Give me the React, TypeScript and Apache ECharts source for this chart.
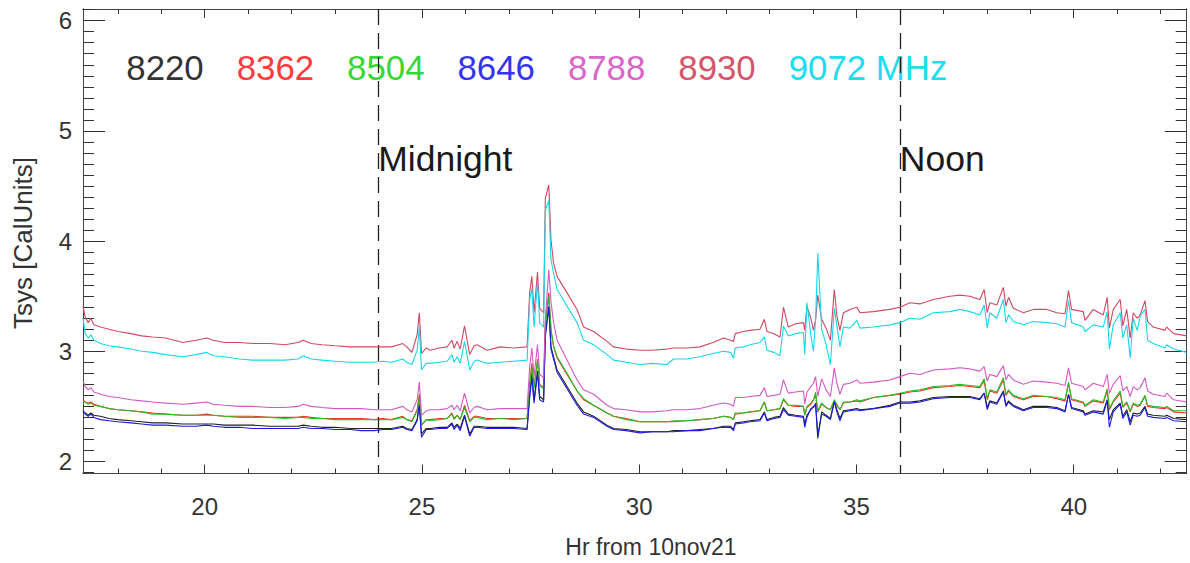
import React, { useEffect, useRef } from "react";
import * as echarts from "echarts";

// ---- data (hours from 10nov21, Tsys in CalUnits) ----
const HOURS = [
  17.2, 17.25, 17.32, 17.38, 17.45, 17.6, 17.8, 18.0, 18.3, 18.55, 18.8, 19.1, 19.5, 19.8, 20.05, 20.2, 20.45, 20.8, 21.1, 21.5, 21.85, 22.15, 22.27, 22.45, 22.7, 23.0, 23.35, 23.6, 23.9,
  24.1, 24.3, 24.56, 24.65, 24.77, 24.89, 24.94, 24.99, 25.1, 25.19, 25.4, 25.58, 25.69, 25.74, 25.81, 25.88, 25.98, 26.1, 26.2, 26.27, 26.5, 26.8, 27.11, 27.42, 27.48, 27.53, 27.58, 27.66, 27.71, 27.8, 27.84, 27.92, 27.97, 28.03, 28.11, 28.34, 28.57, 28.72, 28.95, 29.26, 29.41, 29.7, 30.02,
  30.3, 30.64, 30.79, 31.1, 31.4, 31.7, 31.94, 32.1, 32.17, 32.21, 32.4, 32.55, 32.78, 32.88, 32.94, 33.1, 33.24, 33.32, 33.43, 33.6, 33.78, 33.81, 33.86, 33.95, 34.01, 34.06, 34.11, 34.2, 34.3, 34.4, 34.49, 34.55, 34.62, 34.7, 34.85, 35.01, 35.08, 35.39, 35.77, 36.0,
  36.23, 36.46, 36.77, 37.15, 37.38, 37.61, 37.84, 37.94, 38.01, 38.07, 38.23, 38.38, 38.44, 38.5, 38.61, 38.84, 39.07, 39.38, 39.61, 39.8, 39.88, 39.95, 40.22, 40.26, 40.45, 40.68, 40.77, 40.82, 40.91, 41.07, 41.13, 41.22, 41.3, 41.37, 41.46, 41.53, 41.64, 41.7, 41.83, 42.1, 42.14, 42.3, 42.6,
];

const T8220 = [
  2.45, 2.44, 2.42, 2.44, 2.42, 2.41, 2.39, 2.38, 2.37, 2.36, 2.35, 2.35, 2.34, 2.34, 2.34, 2.34, 2.33, 2.33, 2.33, 2.32, 2.32, 2.32, 2.33, 2.32, 2.31, 2.31, 2.30, 2.30, 2.30,
  2.30, 2.30, 2.32, 2.30, 2.29, 2.38, 2.53, 2.25, 2.30, 2.30, 2.31, 2.31, 2.35, 2.31, 2.34, 2.30, 2.42, 2.25, 2.32, 2.32, 2.31, 2.31, 2.31, 2.30, 2.62, 2.80, 2.56, 2.82, 2.59, 2.56, 3.16, 3.41, 3.04, 2.95, 2.83, 2.68, 2.53, 2.45, 2.41, 2.33, 2.30, 2.29, 2.27,
  2.27, 2.27, 2.28, 2.28, 2.29, 2.30, 2.32, 2.32, 2.29, 2.35, 2.36, 2.37, 2.38, 2.45, 2.38, 2.40, 2.41, 2.49, 2.43, 2.42, 2.41, 2.33, 2.42, 2.47, 2.50, 2.51, 2.21, 2.45, 2.42, 2.39, 2.55, 2.47, 2.39, 2.46, 2.47, 2.48, 2.47, 2.48, 2.51, 2.54,
  2.54, 2.55, 2.58, 2.59, 2.59, 2.59, 2.57, 2.62, 2.49, 2.55, 2.53, 2.64, 2.51, 2.55, 2.51, 2.47, 2.50, 2.50, 2.49, 2.46, 2.61, 2.49, 2.46, 2.43, 2.46, 2.45, 2.56, 2.38, 2.47, 2.53, 2.41, 2.47, 2.36, 2.44, 2.43, 2.44, 2.50, 2.43, 2.42, 2.41, 2.42, 2.39, 2.38,
];

const T8362 = [
  2.56, 2.54, 2.53, 2.54, 2.52, 2.50, 2.48, 2.47, 2.46, 2.45, 2.44, 2.43, 2.42, 2.42, 2.43, 2.42, 2.41, 2.41, 2.41, 2.40, 2.40, 2.40, 2.41, 2.40, 2.39, 2.39, 2.39, 2.39, 2.38,
  2.39, 2.38, 2.41, 2.38, 2.37, 2.47, 2.61, 2.33, 2.38, 2.38, 2.39, 2.39, 2.44, 2.39, 2.42, 2.38, 2.51, 2.37, 2.41, 2.41, 2.39, 2.39, 2.39, 2.39, 2.71, 2.89, 2.68, 2.91, 2.70, 2.67, 3.26, 3.53, 3.19, 3.04, 2.94, 2.79, 2.64, 2.56, 2.51, 2.44, 2.41, 2.39, 2.36,
  2.36, 2.36, 2.36, 2.37, 2.38, 2.39, 2.41, 2.40, 2.38, 2.43, 2.44, 2.45, 2.46, 2.54, 2.46, 2.47, 2.48, 2.56, 2.51, 2.50, 2.50, 2.42, 2.49, 2.52, 2.56, 2.60, 2.45, 2.52, 2.49, 2.47, 2.55, 2.51, 2.47, 2.53, 2.54, 2.55, 2.54, 2.58, 2.60, 2.61,
  2.63, 2.64, 2.67, 2.68, 2.69, 2.68, 2.67, 2.73, 2.56, 2.64, 2.62, 2.74, 2.60, 2.64, 2.59, 2.56, 2.59, 2.59, 2.57, 2.55, 2.71, 2.56, 2.53, 2.50, 2.55, 2.53, 2.64, 2.47, 2.54, 2.62, 2.49, 2.53, 2.45, 2.52, 2.50, 2.51, 2.59, 2.50, 2.49, 2.48, 2.49, 2.45, 2.44,
];

const T8504 = [
  2.55, 2.54, 2.52, 2.53, 2.51, 2.50, 2.48, 2.47, 2.46, 2.45, 2.43, 2.43, 2.42, 2.42, 2.42, 2.42, 2.41, 2.40, 2.40, 2.40, 2.39, 2.40, 2.40, 2.39, 2.39, 2.38, 2.38, 2.38, 2.38,
  2.38, 2.38, 2.40, 2.38, 2.36, 2.46, 2.58, 2.33, 2.38, 2.37, 2.38, 2.39, 2.43, 2.38, 2.42, 2.38, 2.49, 2.36, 2.40, 2.40, 2.38, 2.39, 2.38, 2.39, 2.69, 2.86, 2.66, 2.93, 2.69, 2.66, 3.22, 3.50, 3.20, 3.05, 2.95, 2.80, 2.64, 2.57, 2.51, 2.44, 2.41, 2.38, 2.36,
  2.36, 2.36, 2.37, 2.37, 2.38, 2.39, 2.41, 2.40, 2.38, 2.44, 2.44, 2.45, 2.46, 2.54, 2.46, 2.47, 2.48, 2.57, 2.51, 2.51, 2.50, 2.42, 2.50, 2.53, 2.56, 2.63, 2.46, 2.53, 2.49, 2.47, 2.56, 2.52, 2.47, 2.54, 2.54, 2.56, 2.55, 2.58, 2.60, 2.62,
  2.64, 2.65, 2.68, 2.69, 2.70, 2.69, 2.68, 2.75, 2.57, 2.65, 2.63, 2.76, 2.61, 2.65, 2.60, 2.57, 2.60, 2.59, 2.58, 2.56, 2.72, 2.57, 2.54, 2.51, 2.56, 2.54, 2.66, 2.48, 2.55, 2.64, 2.50, 2.54, 2.46, 2.53, 2.51, 2.52, 2.60, 2.51, 2.50, 2.49, 2.50, 2.46, 2.46,
];

const T8646 = [
  2.47, 2.43, 2.41, 2.43, 2.40, 2.38, 2.37, 2.36, 2.35, 2.34, 2.33, 2.33, 2.32, 2.32, 2.33, 2.32, 2.31, 2.31, 2.30, 2.30, 2.30, 2.30, 2.31, 2.30, 2.30, 2.29, 2.29, 2.28, 2.28,
  2.29, 2.29, 2.31, 2.29, 2.28, 2.37, 2.51, 2.22, 2.29, 2.29, 2.30, 2.30, 2.34, 2.29, 2.33, 2.28, 2.41, 2.23, 2.31, 2.31, 2.30, 2.30, 2.30, 2.29, 2.58, 2.76, 2.53, 2.80, 2.56, 2.54, 3.13, 3.40, 3.02, 2.93, 2.81, 2.66, 2.51, 2.43, 2.40, 2.32, 2.29, 2.28, 2.26,
  2.27, 2.27, 2.27, 2.28, 2.28, 2.30, 2.31, 2.31, 2.28, 2.34, 2.35, 2.36, 2.37, 2.44, 2.37, 2.39, 2.40, 2.47, 2.42, 2.41, 2.40, 2.31, 2.40, 2.48, 2.49, 2.53, 2.24, 2.43, 2.41, 2.38, 2.54, 2.45, 2.37, 2.45, 2.46, 2.47, 2.46, 2.48, 2.50, 2.53,
  2.53, 2.54, 2.57, 2.58, 2.58, 2.58, 2.56, 2.62, 2.47, 2.54, 2.52, 2.63, 2.50, 2.54, 2.50, 2.46, 2.49, 2.49, 2.48, 2.45, 2.61, 2.48, 2.45, 2.42, 2.45, 2.43, 2.55, 2.31, 2.45, 2.52, 2.39, 2.45, 2.33, 2.42, 2.41, 2.42, 2.49, 2.41, 2.40, 2.39, 2.40, 2.37, 2.36,
];

const T8788 = [
  2.73, 2.68, 2.65, 2.67, 2.63, 2.61, 2.59, 2.58, 2.56, 2.55, 2.54, 2.53, 2.52, 2.53, 2.54, 2.52, 2.51, 2.50, 2.50, 2.49, 2.49, 2.50, 2.52, 2.50, 2.49, 2.48, 2.48, 2.48, 2.47,
  2.47, 2.47, 2.50, 2.47, 2.45, 2.56, 2.72, 2.42, 2.46, 2.47, 2.47, 2.48, 2.51, 2.47, 2.51, 2.46, 2.62, 2.44, 2.49, 2.50, 2.47, 2.48, 2.48, 2.48, 2.86, 3.03, 2.77, 3.06, 2.79, 2.76, 3.29, 3.74, 3.45, 3.26, 3.10, 2.92, 2.74, 2.65, 2.61, 2.51, 2.48, 2.47, 2.45,
  2.45, 2.46, 2.47, 2.47, 2.48, 2.51, 2.53, 2.52, 2.50, 2.58, 2.58, 2.59, 2.60, 2.67, 2.59, 2.60, 2.61, 2.74, 2.62, 2.63, 2.64, 2.52, 2.63, 2.68, 2.71, 2.77, 2.59, 2.75, 2.65, 2.59, 2.85, 2.71, 2.61, 2.70, 2.71, 2.74, 2.71, 2.72, 2.74, 2.77,
  2.80, 2.79, 2.83, 2.84, 2.85, 2.84, 2.82, 2.86, 2.73, 2.79, 2.77, 2.87, 2.74, 2.79, 2.74, 2.70, 2.73, 2.72, 2.71, 2.69, 2.85, 2.71, 2.68, 2.65, 2.71, 2.68, 2.79, 2.62, 2.70, 2.78, 2.64, 2.68, 2.59, 2.68, 2.65, 2.67, 2.76, 2.64, 2.61, 2.59, 2.62, 2.56, 2.54,
];

const T8930 = [
  3.41, 3.31, 3.26, 3.30, 3.24, 3.22, 3.20, 3.18, 3.16, 3.14, 3.13, 3.12, 3.08, 3.10, 3.12, 3.10, 3.08, 3.08, 3.07, 3.07, 3.06, 3.08, 3.10, 3.07, 3.06, 3.05, 3.04, 3.04, 3.04,
  3.04, 3.04, 3.07, 3.04, 2.99, 3.15, 3.35, 2.98, 3.03, 3.01, 3.03, 3.04, 3.10, 3.03, 3.09, 3.02, 3.23, 2.97, 3.05, 3.06, 3.01, 3.04, 3.03, 3.04, 3.54, 3.68, 3.35, 3.72, 3.39, 3.35, 4.39, 4.51, 4.01, 3.80, 3.68, 3.53, 3.38, 3.22, 3.18, 3.09, 3.04, 3.02, 3.01,
  3.01, 3.02, 3.03, 3.03, 3.04, 3.08, 3.12, 3.10, 3.09, 3.16, 3.18, 3.19, 3.20, 3.29, 3.18, 3.16, 3.13, 3.40, 3.22, 3.25, 3.26, 3.19, 3.41, 3.30, 3.19, 3.29, 3.51, 3.29, 3.21, 3.10, 3.56, 3.32, 3.19, 3.35, 3.38, 3.40, 3.35, 3.36, 3.38, 3.40,
  3.44, 3.43, 3.47, 3.50, 3.51, 3.50, 3.47, 3.56, 3.35, 3.44, 3.42, 3.58, 3.41, 3.49, 3.39, 3.35, 3.38, 3.38, 3.35, 3.34, 3.55, 3.38, 3.36, 3.28, 3.38, 3.33, 3.49, 3.21, 3.38, 3.47, 3.23, 3.38, 3.12, 3.35, 3.30, 3.33, 3.46, 3.27, 3.22, 3.19, 3.22, 3.16, 3.14,
];

const T9072 = [
  3.30, 3.16, 3.12, 3.15, 3.10, 3.07, 3.05, 3.04, 3.02, 3.00, 2.99, 2.97, 2.95, 2.97, 2.99, 2.96, 2.95, 2.93, 2.92, 2.92, 2.92, 2.93, 2.96, 2.93, 2.92, 2.91, 2.90, 2.90, 2.90,
  2.91, 2.90, 2.93, 2.90, 2.88, 3.01, 3.22, 2.83, 2.89, 2.89, 2.90, 2.91, 2.97, 2.90, 2.95, 2.89, 3.09, 2.83, 2.91, 2.92, 2.89, 2.90, 2.91, 2.92, 3.47, 3.57, 3.22, 3.63, 3.26, 3.22, 4.28, 4.37, 3.83, 3.71, 3.56, 3.41, 3.26, 3.10, 3.06, 2.97, 2.92, 2.90, 2.88,
  2.89, 2.88, 2.93, 2.93, 2.95, 2.98, 3.00, 2.99, 2.94, 3.03, 3.04, 3.06, 3.08, 3.13, 3.01, 2.99, 2.96, 3.23, 3.14, 3.16, 3.17, 2.97, 3.44, 3.15, 3.00, 3.29, 3.89, 3.20, 3.06, 2.88, 3.39, 3.23, 3.04, 3.22, 3.21, 3.28, 3.21, 3.22, 3.24, 3.26,
  3.30, 3.29, 3.35, 3.36, 3.38, 3.36, 3.33, 3.42, 3.21, 3.35, 3.30, 3.47, 3.26, 3.33, 3.27, 3.24, 3.27, 3.26, 3.25, 3.22, 3.46, 3.26, 3.22, 3.18, 3.24, 3.22, 3.36, 3.02, 3.24, 3.35, 3.12, 3.24, 2.94, 3.30, 3.19, 3.32, 3.38, 3.10, 3.07, 3.03, 3.06, 3.02, 2.99,
];

const FREQ_LABELS = ["8220", "8362", "8504", "8646", "8788", "8930", "9072 MHz"];
const SERIES_VALUES = [T8220, T8362, T8504, T8646, T8788, T8930, T9072];

const X_MAJOR = [20, 25, 30, 35, 40];
const Y_MAJOR = [2, 3, 4, 5, 6];
const MARKER_HOURS = [24, 36];
const MARKER_LABELS = ["Midnight", "Noon"];

// ---- styling ----
const LINE_COLORS = ["#222222", "#ff2a2a", "#22c322", "#1c1ce6", "#d458c6", "#d24862", "#18d6ee"];
const TEXT_COLORS = ["#333333", "#ff3b3b", "#35d835", "#3434ee", "#d865c8", "#d5556a", "#20dcef"];
const FONT = '"Liberation Sans", Helvetica, Arial, sans-serif';

const X_MIN = 17.2;
const X_MAX = 42.6;
const Y_MIN = 1.891;
const Y_MAX = 6.106;

function range(a: number, b: number, step: number): number[] {
  const out: number[] = [];
  for (let v = a; v <= b + 1e-9; v += step) out.push(Math.round(v * 10) / 10);
  return out;
}
const X_MINOR = range(18, 42, 1).filter((v) => v % 5 !== 0);
const Y_MINOR = range(1.9, 6.1, 0.1).filter((v) => Math.abs(v - Math.round(v)) > 1e-6);

export default function App() {
  const ref = useRef<HTMLDivElement>(null);

  useEffect(() => {
    if (!ref.current) return;
    const chart = echarts.init(ref.current, null, { renderer: "svg" });

    const axisLine = { show: true, lineStyle: { color: "#444444", width: 1 } };
    const tickStyle = { color: "#333333", width: 1 };

    const xAx = (pos: string, vals: number[], len: number, labels: boolean) => ({
      type: "value",
      position: pos,
      min: X_MIN,
      max: X_MAX,
      axisLine,
      splitLine: { show: false },
      axisTick: { show: true, inside: true, length: len, customValues: vals, lineStyle: tickStyle },
      axisLabel: labels
        ? { show: true, customValues: vals, fontSize: 24, fontFamily: FONT, color: "#333333", margin: 21 }
        : { show: false },
    });
    const yAx = (pos: string, vals: number[], len: number, labels: boolean) => ({
      type: "value",
      position: pos,
      min: Y_MIN,
      max: Y_MAX,
      axisLine,
      splitLine: { show: false },
      axisTick: { show: true, inside: true, length: len, customValues: vals, lineStyle: tickStyle },
      axisLabel: labels
        ? { show: true, customValues: vals, fontSize: 24, fontFamily: FONT, color: "#333333", margin: 11 }
        : { show: false },
    });

    const series: any[] = SERIES_VALUES.map((vals, i) => ({
      name: FREQ_LABELS[i],
      type: "line",
      data: HOURS.map((h, k) => [h, vals[k]]),
      xAxisIndex: 0,
      yAxisIndex: 0,
      showSymbol: false,
      symbol: "none",
      silent: true,
      lineStyle: { color: LINE_COLORS[i], width: 1.1 },
      z: 2 + i,
    }));

    series[0].markLine = {
      silent: true,
      symbol: ["none", "none"],
      label: { show: false },
      lineStyle: { color: "#222222", type: [16, 8], width: 1.3 },
      data: MARKER_HOURS.map((h) => [{ coord: [h, Y_MAX] }, { coord: [h, Y_MIN] }]),
    };

    const textStyle = (text: string, fill: string, size: number, align: string) => ({
      text,
      fill,
      font: `${size}px ${FONT}`,
      textAlign: align,
      textVerticalAlign: "middle",
      align,
      verticalAlign: "middle",
    });

    const graphic: any[] = [];
    FREQ_LABELS.forEach((t, i) => {
      graphic.push({
        type: "text",
        x: 126.3 + 110.4 * i,
        y: 67.2,
        silent: true,
        style: textStyle(t, TEXT_COLORS[i], 34.8, "left"),
      });
    });
    const MARKER_X = [378.2, 899.8];
    MARKER_LABELS.forEach((t, i) => {
      graphic.push({
        type: "text",
        x: MARKER_X[i],
        y: 159.4,
        silent: true,
        style: textStyle(t, "#1a1a1a", 35.5, "left"),
      });
    });
    graphic.push({
      type: "text",
      x: 651,
      y: 547,
      silent: true,
      style: textStyle("Hr from 10nov21", "#333333", 23, "center"),
    });
    graphic.push({
      type: "text",
      x: 22.8,
      y: 243,
      rotation: Math.PI / 2,
      silent: true,
      style: textStyle("Tsys [CalUnits]", "#333333", 26, "center"),
    });

    chart.setOption({
      animation: false,
      backgroundColor: "#ffffff",
      grid: {
        left: 83,
        right: 3.3,
        top: 9,
        bottom: 89.5,
        containLabel: false,
        outerBoundsMode: "none",
      },
      xAxis: [
        xAx("bottom", X_MAJOR, 9, true),
        xAx("bottom", X_MINOR, 5, false),
        xAx("top", X_MAJOR, 9, false),
        xAx("top", X_MINOR, 5, false),
      ],
      yAxis: [
        yAx("left", Y_MAJOR, 22, true),
        yAx("left", Y_MINOR, 11, false),
        yAx("right", Y_MAJOR, 22, false),
        yAx("right", Y_MINOR, 11, false),
      ],
      series,
      graphic,
    });

    return () => chart.dispose();
  }, []);

  return (
    <div
      ref={ref}
      style={{ position: "absolute", left: 0, top: 0, width: 1190, height: 563, background: "#fff" }}
    />
  );
}
